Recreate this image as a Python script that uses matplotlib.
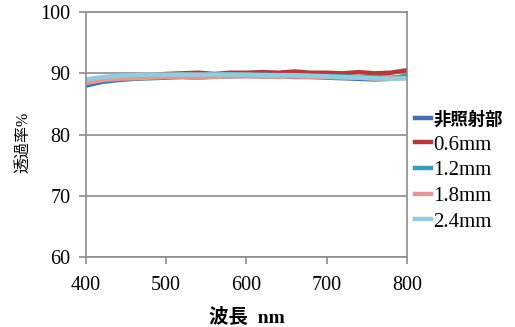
"""Transmittance spectra of irradiated and non-irradiated samples."""
import matplotlib

matplotlib.use("Agg")
import matplotlib.pyplot as plt  # noqa: E402

wavelength = [400, 420, 440, 460, 480, 500, 520, 540, 560, 580, 600,
              620, 640, 660, 680, 700, 720, 740, 760, 780, 800]

series_names = ["非照射部", "0.6mm", "1.2mm", "1.8mm", "2.4mm"]

unirradiated = [88.0, 88.6, 88.9, 89.1, 89.2, 89.3, 89.4, 89.3, 89.5, 89.5, 89.6,
                89.5, 89.5, 89.4, 89.4, 89.3, 89.2, 89.1, 89.0, 89.1, 89.6]
mm_06 = [88.6, 89.1, 89.4, 89.6, 89.7, 89.9, 90.0, 90.1, 89.9, 90.1, 90.1,
         90.2, 90.1, 90.3, 90.1, 90.1, 90.0, 90.2, 90.0, 90.1, 90.5]
mm_12 = [88.7, 89.2, 89.4, 89.6, 89.6, 89.7, 89.8, 89.7, 89.8, 89.8, 89.7,
         89.8, 89.7, 89.7, 89.6, 89.6, 89.5, 89.4, 89.4, 89.3, 89.5]
mm_18 = [88.4, 88.9, 89.1, 89.2, 89.3, 89.4, 89.4, 89.3, 89.4, 89.5, 89.5,
         89.5, 89.4, 89.5, 89.4, 89.4, 89.3, 89.3, 89.1, 89.2, 89.2]
mm_24 = [89.0, 89.4, 89.6, 89.7, 89.8, 89.8, 89.8, 89.8, 89.8, 89.8, 89.8,
         89.7, 89.7, 89.7, 89.6, 89.5, 89.4, 89.3, 89.2, 89.1, 89.2]

colors = ["#4172B0", "#B23A38", "#3A9DB5", "#DC9A98", "#93CDDD"]

plt.rcParams["font.family"] = ["Liberation Serif", "Noto Sans CJK JP"]
grey = "#8C8C8C"

fig = plt.figure(figsize=(5.15, 3.27), dpi=100)
ax = fig.add_axes([0.167, 0.214, 0.623, 0.749])

for name, values, color in zip(series_names,
                               [unirradiated, mm_06, mm_12, mm_18, mm_24],
                               colors):
    ax.plot(wavelength, values, color=color, lw=3.2, label=name)

ax.set_xlim(400, 800)
ax.set_ylim(60, 100)
ax.set_xticks([400, 500, 600, 700, 800])
ax.set_yticks([60, 70, 80, 90, 100])
ax.yaxis.grid(True, color=grey, lw=1.2)
ax.set_axisbelow(True)
for spine in ax.spines.values():
    spine.set_color(grey)
    spine.set_linewidth(1.2)
ax.tick_params(direction="out", length=5, width=1.2, color=grey,
               labelsize=14.5, pad=6)
ax.tick_params(axis="x", pad=9)

ax.set_xlabel("波長  nm", fontsize=14, fontweight="bold", labelpad=9)
ax.set_ylabel("透過率%", fontsize=11.5)
ax.yaxis.set_label_coords(-0.17, 0.47)

leg = fig.legend(loc="upper left", bbox_to_anchor=(0.805, 0.662),
                 frameon=False, fontsize=15, handlelength=0.8,
                 handletextpad=0.1, labelspacing=0.29, borderpad=0,
                 borderaxespad=0)
for text in leg.get_texts():
    if text.get_text() == "非照射部":
        text.set_family(["Noto Sans CJK JP"])
        text.set_fontweight("bold")
        text.set_fontsize(12.5)

fig.savefig("out.png", dpi=100)
plt.close(fig)
